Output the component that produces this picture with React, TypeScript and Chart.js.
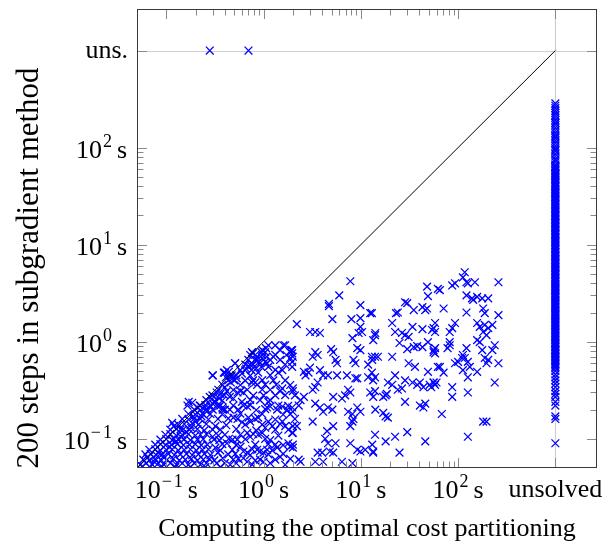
import { useEffect, useRef } from "react";
import { Chart, registerables } from "chart.js";

Chart.register(...registerables);

// ---- axis definition ----
const UNS = 1000; // position of "unsolved" / "uns."
const AXIS_MIN = 0.05;
const AXIS_MAX = 2680;
const majorTicks = [0.1, 1, 10, 100];
const majorExponents = ["−1", "0", "1", "2"];
const minorTicks = [
  0.2, 0.3, 0.4, 0.5, 0.6, 0.7, 0.8, 0.9,
  2, 3, 4, 5, 6, 7, 8, 9,
  20, 30, 40, 50, 60, 70, 80, 90,
];
const xUnsLabel = "unsolved";
const yUnsLabel = "uns.";
const xTitle = "Computing the optimal cost partitioning";
const yTitle = "200 steps in subgradient method";

// ---- data (seconds): [optimal cost partitioning, 200 subgradient steps] ----
const denseLowerLeft: [number, number][] = [
  [0.068, 0.051], [0.087, 0.051], [0.124, 0.051], [0.177, 0.051], [0.252, 0.051], [0.359, 0.051],
  [0.054, 0.054], [0.062, 0.056], [0.072, 0.054], [0.083, 0.056], [0.095, 0.054], [0.11, 0.056],
  [0.127, 0.054], [0.146, 0.056], [0.169, 0.054], [0.194, 0.056], [0.224, 0.054], [0.258, 0.056],
  [0.455, 0.054], [0.524, 0.056], [0.766, 0.054], [1.17, 0.056], [1.67, 0.054],
  [0.058, 0.061], [0.067, 0.06], [0.077, 0.062], [0.089, 0.06], [0.102, 0.061], [0.118, 0.062],
  [0.136, 0.06], [0.157, 0.061], [0.181, 0.062], [0.209, 0.06], [0.24, 0.061], [0.277, 0.062],
  [0.312, 0.06], [0.488, 0.061], [0.55, 0.062], [0.822, 0.06], [1.32, 0.061], [1.88, 0.062],
  [0.061, 0.069], [0.069, 0.07], [0.079, 0.068], [0.091, 0.069], [0.105, 0.07], [0.121, 0.068],
  [0.139, 0.069], [0.161, 0.07], [0.185, 0.068], [0.214, 0.069], [0.246, 0.07], [0.284, 0.068],
  [0.434, 0.069], [0.512, 0.07], [0.73, 0.068], [1.12, 0.069], [1.59, 0.07],
  [0.067, 0.077], [0.077, 0.078], [0.087, 0.076], [0.1, 0.077], [0.115, 0.078], [0.133, 0.076],
  [0.153, 0.077], [0.177, 0.078], [0.204, 0.076], [0.235, 0.077], [0.271, 0.078], [0.359, 0.076],
  [0.477, 0.077], [0.766, 0.078], [1.23, 0.076],
  [0.077, 0.087], [0.087, 0.088], [0.098, 0.086], [0.113, 0.087], [0.13, 0.088], [0.15, 0.086],
  [0.173, 0.087], [0.199, 0.088], [0.229, 0.086], [0.264, 0.087], [0.377, 0.088], [0.524, 0.086],
  [0.822, 0.087], [1.12, 0.088], [1.59, 0.086],
  [0.087, 0.098], [0.1, 0.099], [0.115, 0.097], [0.133, 0.098], [0.153, 0.099], [0.177, 0.097],
  [0.209, 0.098], [0.24, 0.099], [0.351, 0.097], [0.537, 0.098], [0.649, 0.099], [1.17, 0.097],
  [0.098, 0.11], [0.11, 0.112], [0.127, 0.108], [0.146, 0.11], [0.169, 0.112], [0.199, 0.108],
  [0.224, 0.11], [0.258, 0.112], [0.343, 0.108], [0.577, 0.11], [0.784, 0.112], [1.42, 0.108],
  [0.11, 0.124], [0.127, 0.126], [0.146, 0.122], [0.173, 0.124], [0.209, 0.126], [0.246, 0.122],
  [0.359, 0.124], [0.524, 0.126], [0.841, 0.122], [1.32, 0.124],
  [0.133, 0.14], [0.153, 0.142], [0.177, 0.138], [0.214, 0.14], [0.258, 0.142], [0.414, 0.138],
  [0.649, 0.14], [1.48, 0.142],
  [0.146, 0.16], [0.169, 0.158], [0.194, 0.162], [0.224, 0.16], [0.271, 0.158], [0.434, 0.162],
  [0.822, 0.16], [1.32, 0.158],
  [0.169, 0.18], [0.199, 0.178], [0.235, 0.182], [0.284, 0.18], [0.377, 0.178], [0.577, 0.182],
  [0.97, 0.18], [1.59, 0.178],
  [0.194, 0.2], [0.224, 0.198], [0.258, 0.202], [0.55, 0.2], [0.841, 0.198], [1.04, 0.202],
  [0.224, 0.22], [0.252, 0.222], [0.284, 0.218], [0.488, 0.22], [0.73, 0.222], [1.79, 0.218],
  [0.258, 0.25], [0.377, 0.248], [0.73, 0.252], [1.17, 0.25],
  [0.298, 0.28], [0.395, 0.282], [0.784, 0.278], [1.32, 0.28], [1.67, 0.282],
  [0.343, 0.32], [0.488, 0.318], [0.97, 0.322], [1.17, 0.32],
  [0.377, 0.36], [0.577, 0.358], [1.04, 0.362], [1.35, 0.36], [1.88, 0.358],
  [0.434, 0.4], [0.649, 0.398], [0.97, 0.402], [1.67, 0.4],
  [0.524, 0.45], [0.73, 0.448], [1.17, 0.452],
  [0.577, 0.51], [0.649, 0.508], [1.32, 0.512],
  [0.649, 0.58], [0.73, 0.578], [1.67, 0.582],
  [0.697, 0.65], [0.822, 0.648],
  [0.822, 0.73], [0.97, 0.728], [1.32, 0.732],
  [0.97, 0.82], [1.48, 0.818],
  [1.12, 0.92], [1.32, 0.918],
  [0.17, 0.24], [0.185, 0.235], [0.165, 0.22], [0.21, 0.21], [0.22, 0.22], [0.28, 0.27],
  [0.31, 0.24], [0.35, 0.26], [0.36, 0.22], [0.38, 0.2], [0.115, 0.146], [0.12, 0.135],
  [0.3, 0.45], [0.39, 0.48], [0.41, 0.43], [0.44, 0.49], [0.47, 0.45], [0.51, 0.6],
  [0.057, 0.052], [0.075, 0.058], [0.093, 0.065], [0.108, 0.082], [0.125, 0.093], [0.142, 0.104],
  [0.16, 0.118], [0.18, 0.13], [0.2, 0.15], [0.23, 0.17], [0.26, 0.19], [0.3, 0.23],
  [0.33, 0.3], [0.4, 0.34], [0.46, 0.38], [0.53, 0.42], [0.6, 0.47], [0.66, 0.53], [0.75, 0.6],
  [0.86, 0.7], [0.95, 0.78], [1.06, 0.86], [0.064, 0.064], [0.082, 0.072], [0.12, 0.1],
  [0.14, 0.125], [0.19, 0.17], [0.25, 0.21], [0.36, 0.29], [0.5, 0.4], [0.7, 0.56], [0.9, 0.62],
];

const middleCluster: [number, number][] = [
  [1.67, 0.92], [1.88, 0.78], [1.97, 0.76], [0.76, 0.78], [0.78, 0.76], [0.51, 0.6],
  [0.42, 0.51], [0.4, 0.48], [0.45, 0.45], [0.48, 0.42], [0.3, 0.45],
  [0.86, 0.65], [0.92, 0.6], [0.97, 0.68], [1.04, 0.62], [1.09, 0.6], [1.17, 0.65], [1.12, 0.55],
  [1.48, 0.65], [1.56, 0.51], [1.42, 0.48], [1.88, 0.68], [1.97, 0.55],
  [0.78, 0.4], [0.82, 0.38], [0.76, 0.38], [0.86, 0.36], [1.26, 0.4],
  [1.56, 0.33], [1.48, 0.31], [2.0, 0.31], [2.1, 0.28],
  [0.42, 0.31], [0.45, 0.27], [0.49, 0.26], [0.54, 0.3], [0.58, 0.31], [0.62, 0.3], [0.68, 0.32],
  [0.31, 0.27], [0.32, 0.24], [0.34, 0.215], [0.3, 0.2], [0.38, 0.21], [0.4, 0.2], [0.45, 0.2],
  [0.6, 0.24], [0.62, 0.22], [0.68, 0.215], [0.92, 0.25], [1.0, 0.28], [1.12, 0.24], [1.17, 0.215],
  [1.09, 0.21], [1.42, 0.22], [1.56, 0.215], [1.38, 0.2], [1.75, 0.2], [1.88, 0.18],
  [0.49, 0.165], [0.54, 0.16], [0.6, 0.148], [0.7, 0.165], [0.73, 0.15], [0.34, 0.16], [0.32, 0.135],
  [0.3, 0.124], [0.88, 0.165], [0.97, 0.14], [1.04, 0.13], [1.12, 0.15], [1.23, 0.135],
  [1.56, 0.15], [1.67, 0.135], [1.8, 0.124], [1.97, 0.115], [2.0, 0.135],
  [0.4, 0.11], [0.44, 0.1], [0.48, 0.098], [0.42, 0.09], [0.68, 0.115], [0.73, 0.105],
  [0.3, 0.105], [0.31, 0.098], [0.88, 0.11], [0.97, 0.115], [1.04, 0.1],
  [1.32, 0.087], [1.38, 0.081], [1.8, 0.09], [1.88, 0.083], [2.0, 0.081],
  [0.32, 0.081], [0.34, 0.072], [0.58, 0.083], [0.62, 0.074], [0.68, 0.072],
  [0.86, 0.077], [0.92, 0.074], [1.0, 0.072], [1.09, 0.077], [1.48, 0.065],
  [0.38, 0.063], [0.4, 0.056], [0.33, 0.056], [0.62, 0.063], [0.68, 0.058], [0.92, 0.061], [1.0, 0.058],
  [0.78, 0.58], [0.84, 0.53], [0.75, 0.51], [0.95, 0.55], [0.88, 0.48], [0.73, 0.73],
  [1.04, 0.78], [1.07, 0.7], [1.26, 0.7], [1.93, 0.82], [1.72, 0.73], [2.0, 0.7], [1.6, 0.92],
];

const upperCluster: [number, number][] = [
  [7.8, 4.2], [6.0, 3.0], [4.7, 2.45], [4.7, 2.33], [9.9, 2.38], [12.5, 1.97], [5.1, 1.71],
  [8.0, 1.71], [9.9, 1.75], [2.2, 1.52], [3.0, 1.26], [3.4, 1.26], [3.8, 1.23], [9.5, 1.23],
  [10.3, 1.26], [9.9, 1.42], [13.4, 1.04], [14.1, 1.23], [8.2, 1.09], [9.2, 0.86], [9.9, 0.82],
  [1.97, 0.82], [1.97, 0.62], [3.4, 0.78], [3.6, 0.73], [3.2, 0.7], [4.95, 0.84], [5.2, 0.78],
  [5.5, 0.65], [5.7, 0.6], [8.4, 0.65], [8.8, 0.6], [11.9, 0.58], [13.1, 0.65],
  [3.0, 0.54], [2.7, 0.45], [2.6, 0.49], [2.9, 0.48], [3.8, 0.51], [4.1, 0.45], [4.6, 0.45],
  [5.7, 0.45], [7.2, 0.45], [8.8, 0.42], [9.2, 0.42], [11.9, 0.43], [13.4, 0.4],
  [3.4, 0.34], [3.6, 0.38], [3.2, 0.32], [2.0, 0.33], [2.6, 0.27], [2.4, 0.25], [2.3, 0.22],
  [5.2, 0.27], [6.4, 0.26], [6.9, 0.28], [7.4, 0.32], [7.8, 0.3], [12.5, 0.3], [13.4, 0.27],
  [3.4, 0.23], [3.8, 0.21], [4.1, 0.19], [4.6, 0.21], [5.1, 0.2], [7.4, 0.19], [8.2, 0.18],
  [8.4, 0.16], [9.9, 0.19], [9.2, 0.21], [14.1, 0.2], [1.97, 0.21], [2.0, 0.19], [2.1, 0.16],
  [2.2, 0.135], [2.0, 0.115], [3.2, 0.15], [5.2, 0.135], [4.5, 0.12], [4.3, 0.1], [4.6, 0.09],
  [5.5, 0.09], [7.8, 0.135], [8.2, 0.15], [2.0, 0.087], [4.0, 0.072], [4.8, 0.074], [5.2, 0.072],
  [3.6, 0.072], [7.8, 0.09], [9.2, 0.077], [9.9, 0.074], [11.1, 0.077], [13.1, 0.087], [13.4, 0.072],
  [2.3, 0.061], [2.4, 0.058], [3.4, 0.058], [4.1, 0.058], [6.4, 0.058], [8.2, 0.056],
  [48, 3.7], [49, 2.95], [62, 3.5], [28.5, 2.55], [30, 2.5], [24, 2.0], [23, 1.97], [35, 2.12],
  [43, 2.27], [46, 2.12], [48, 2.2], [13, 1.97], [21, 1.56], [22.5, 1.26], [26.5, 1.23],
  [28.5, 1.17], [34, 1.42], [43, 1.35], [54, 1.32], [58, 1.56], [56, 1.38], [31, 1.12],
  [14, 1.17], [25, 0.97], [30, 0.84], [35, 0.88], [38, 0.9], [43, 0.88], [49, 0.99],
  [56, 0.82], [58, 0.76], [13, 0.7], [14, 0.7], [15, 0.7], [21, 0.7], [31, 0.6], [36, 0.55],
  [49, 0.49], [62, 0.55], [13, 0.48], [14, 0.43], [22.5, 0.45], [19, 0.38], [21, 0.36],
  [28.5, 0.4], [34, 0.38], [38, 0.36], [40.5, 0.38], [44, 0.34], [51, 0.36], [56, 0.38],
  [60, 0.38], [14, 0.31], [18, 0.28], [17, 0.27], [18.5, 0.29], [24, 0.32], [26.5, 0.33],
  [28.5, 0.24], [40.5, 0.22], [46, 0.23], [44, 0.21], [17, 0.185], [18, 0.17], [19, 0.165],
  [30, 0.117], [14, 0.11], [18, 0.094], [22.5, 0.105], [46, 0.094], [13.4, 0.074], [25, 0.072],
  [117, 5.2], [112, 4.6], [93, 4.0], [87, 3.8], [122, 4.1], [126, 4.0], [149, 4.1], [260, 4.1],
  [65, 3.4], [122, 3.0], [139, 2.8], [143, 2.7], [157, 2.9], [177, 2.8], [204, 2.8],
  [71, 2.2], [122, 2.0], [181, 2.2], [188, 1.97], [260, 1.88], [58, 1.26],
  [93, 1.56], [87, 1.38], [82, 1.26], [157, 1.56], [167, 1.42], [188, 1.49], [204, 1.38],
  [225, 1.49], [181, 1.26], [196, 1.17], [157, 1.04], [167, 0.99], [82, 0.99], [78, 0.86],
  [82, 0.92], [58, 0.86], [56, 0.78], [122, 0.86], [112, 0.73], [110, 0.68], [117, 0.68],
  [126, 0.62], [100, 0.62], [93, 0.6], [132, 0.55], [177, 0.82], [225, 0.82], [238, 0.92],
  [188, 0.68], [204, 0.65], [196, 0.6], [260, 0.6], [157, 0.49], [126, 0.43], [112, 0.51],
  [65, 0.55], [71, 0.48], [56, 0.38], [58, 0.36], [53, 0.34], [87, 0.34], [87, 0.27],
  [126, 0.3], [238, 0.38], [68, 0.18], [181, 0.15], [196, 0.15], [126, 0.105],
];

// instances unsolved by the optimal cost partitioning (y = subgradient time)
const unsolvedByOptimal: number[] = [
  285, 270, 255, 240, 228, 215, 203, 192, 180, 170, 160, 150, 141, 133, 125, 118, 111, 104, 98,
  92, 86, 81, 76, 71, 67, 63, 59, 55, 52, 49, 46, 43, 40, 37.5, 35, 33, 31, 29, 27, 25.5, 24,
  22.5, 21, 19.7, 18.5, 17.3, 16.2, 15.2, 14.2, 13.3, 12.5, 11.7, 11, 10.3, 9.6, 9, 8.4, 7.9,
  7.4, 6.9, 6.5, 6.1, 5.7, 5.3, 5, 4.7, 4.4, 4.1, 3.8, 3.6, 3.4, 3.2, 3, 2.8, 2.6, 2.45, 2.3,
  2.15, 2, 1.9, 1.78, 1.66, 1.55, 1.45, 1.36, 1.27, 1.19, 1.11, 1.04, 0.97, 0.91, 0.85, 0.8,
  0.75, 0.7, 0.65, 0.61, 0.57, 0.53, 0.5, 0.46, 0.43, 0.4, 0.37, 0.34, 0.31, 0.29, 0.27, 0.24,
  0.22, 0.17, 0.16, 0.09,
];
const unsolvedByOptimalMore: number[] = [
  180, 130, 95, 75, 65, 62, 58, 54, 50.5, 47.5, 44.5, 41.5, 39, 36, 34, 32, 30, 28, 26.2, 24.7,
  23.2, 21.7, 20.3, 19.1, 17.9, 16.8, 15.7, 14.7, 13.8, 12.9, 12.1, 11.3, 10.6, 9.9, 9.3, 8.7,
  8.15, 7.65, 7.15, 6.7, 6.3, 5.9, 5.5, 5.15, 4.85, 4.55, 4.25, 3.95, 3.7, 3.5, 3.3, 3.1, 2.9,
  2.7, 2.52, 2.37, 2.22, 2.08, 1.95, 1.84, 1.72, 1.6, 1.5, 1.4, 1.31, 1.23, 1.15, 1.08, 1.0,
  0.94, 0.88, 0.82, 0.77, 0.72, 0.67, 0.63, 0.59, 0.55,
];

// instances unsolved by the subgradient method (x = optimal time)
const unsolvedBySubgradient: number[] = [0.28, 0.7];

const FONT = "'Liberation Serif','Times New Roman',serif";

function drawPowLabel(
  ctx: CanvasRenderingContext2D,
  exp: string,
  x: number,
  baseline: number,
  align: "center" | "right"
) {
  const big = `26px ${FONT}`;
  const small = `18px ${FONT}`;
  ctx.font = big;
  const w10 = ctx.measureText("10").width;
  const ws = ctx.measureText("s").width;
  ctx.font = small;
  const neg = exp.startsWith("−");
  const wMinus = neg ? ctx.measureText("−").width + 2 : 0;
  const rest = neg ? exp.slice(1) : exp;
  const wRest = ctx.measureText(rest).width;
  const gap = 5;
  const total = w10 + 1 + wMinus + wRest + gap + ws;
  const sx = align === "center" ? x - total / 2 : x - total;
  ctx.textAlign = "left";
  ctx.textBaseline = "alphabetic";
  ctx.font = big;
  ctx.fillText("10", sx, baseline);
  ctx.font = small;
  if (neg) ctx.fillText("−", sx + w10 + 1, baseline - 11);
  ctx.fillText(rest, sx + w10 + 1 + wMinus, baseline - 11);
  ctx.font = big;
  ctx.fillText("s", sx + w10 + 1 + wMinus + wRest + gap, baseline);
}

const decorPlugin = {
  id: "decor",
  beforeDatasetsDraw(chart: any) {
    const { ctx, chartArea: a, scales } = chart;
    const x = scales.x;
    const y = scales.y;
    ctx.save();
    ctx.strokeStyle = "#cfcfcf";
    ctx.lineWidth = 1.2;
    const ux = Math.round(x.getPixelForValue(UNS)) + 0.5;
    const uy = Math.round(y.getPixelForValue(UNS)) + 0.5;
    ctx.beginPath();
    ctx.moveTo(ux, a.top);
    ctx.lineTo(ux, a.bottom);
    ctx.moveTo(a.left, uy);
    ctx.lineTo(a.right, uy);
    ctx.stroke();
    ctx.restore();
  },
  afterDatasetsDraw(chart: any) {
    const { ctx, chartArea: a, scales } = chart;
    const x = scales.x;
    const y = scales.y;
    ctx.save();
    ctx.strokeStyle = "#8a8a8a";
    ctx.lineWidth = 1;
    ctx.beginPath();
    const tick = (v: number, len: number) => {
      const px = Math.round(x.getPixelForValue(v)) + 0.5;
      ctx.moveTo(px, a.bottom);
      ctx.lineTo(px, a.bottom - len);
      ctx.moveTo(px, a.top);
      ctx.lineTo(px, a.top + len);
      const py = Math.round(y.getPixelForValue(v)) + 0.5;
      ctx.moveTo(a.left, py);
      ctx.lineTo(a.left + len, py);
      ctx.moveTo(a.right, py);
      ctx.lineTo(a.right - len, py);
    };
    [...majorTicks, UNS].forEach((v) => tick(v, 10));
    minorTicks.forEach((v) => tick(v, 6.5));
    ctx.stroke();
    ctx.strokeStyle = "#3a3a3a";
    ctx.strokeRect(
      Math.round(a.left) + 0.5,
      Math.round(a.top) + 0.5,
      Math.round(a.right - a.left) - 1,
      Math.round(a.bottom - a.top) - 1
    );
    ctx.restore();
  },
  afterDraw(chart: any) {
    const { ctx, chartArea: a, scales } = chart;
    const x = scales.x;
    const y = scales.y;
    ctx.save();
    ctx.fillStyle = "#000";
    const xBase = a.bottom + 30;
    majorTicks.forEach((v, i) => {
      drawPowLabel(ctx, majorExponents[i], x.getPixelForValue(v), xBase, "center");
      drawPowLabel(ctx, majorExponents[i], a.left - 10, y.getPixelForValue(v) + 10, "right");
    });
    ctx.font = `26px ${FONT}`;
    ctx.textAlign = "center";
    ctx.textBaseline = "alphabetic";
    ctx.fillText(xUnsLabel, x.getPixelForValue(UNS), xBase - 1);
    ctx.textAlign = "right";
    ctx.fillText(yUnsLabel, a.left - 9, y.getPixelForValue(UNS) + 7);
    // axis titles
    ctx.textAlign = "center";
    ctx.font = `26px ${FONT}`;
    ctx.fillText(xTitle, (a.left + a.right) / 2, a.bottom + 68);
    ctx.translate(38, 268);
    ctx.rotate(-Math.PI / 2);
    ctx.font = `31px ${FONT}`;
    ctx.fillText(yTitle, 0, 0);
    ctx.restore();
  },
};

export default function App() {
  const ref = useRef<HTMLCanvasElement | null>(null);
  useEffect(() => {
    document.body.style.margin = "0";
    const canvas = ref.current;
    if (!canvas) return;
    const points = [
      ...denseLowerLeft,
      ...middleCluster,
      ...upperCluster,
      ...unsolvedByOptimal.map((v) => [UNS, v] as [number, number]),
      ...unsolvedByOptimalMore.map((v) => [UNS, v] as [number, number]),
      ...unsolvedBySubgradient.map((v) => [v, UNS] as [number, number]),
    ].map(([px, py]) => ({ x: px, y: py }));
    const chart = new Chart(canvas, {
      type: "scatter",
      data: {
        datasets: [
          {
            data: [
              { x: AXIS_MIN, y: AXIS_MIN },
              { x: UNS, y: UNS },
            ],
            showLine: true,
            borderColor: "#000",
            borderWidth: 1,
            pointRadius: 0,
            clip: 0,
          } as any,
          {
            data: points,
            pointStyle: "crossRot",
            pointRadius: 5.5,
            borderColor: "#0000ff",
            backgroundColor: "#0000ff",
            borderWidth: 1.3,
            clip: 0,
          } as any,
        ],
      },
      options: {
        animation: false,
        responsive: false,
        devicePixelRatio: 1,
        events: [],
        layout: { padding: { left: 137, top: 9, right: 16, bottom: 76 } },
        plugins: { legend: { display: false }, tooltip: { enabled: false } },
        scales: {
          x: { type: "logarithmic", min: AXIS_MIN, max: AXIS_MAX, display: false },
          y: { type: "logarithmic", min: AXIS_MIN, max: AXIS_MAX, display: false },
        },
      },
      plugins: [decorPlugin],
    });
    return () => chart.destroy();
  }, []);
  return <canvas ref={ref} width={613} height={544} style={{ display: "block" }} />;
}
